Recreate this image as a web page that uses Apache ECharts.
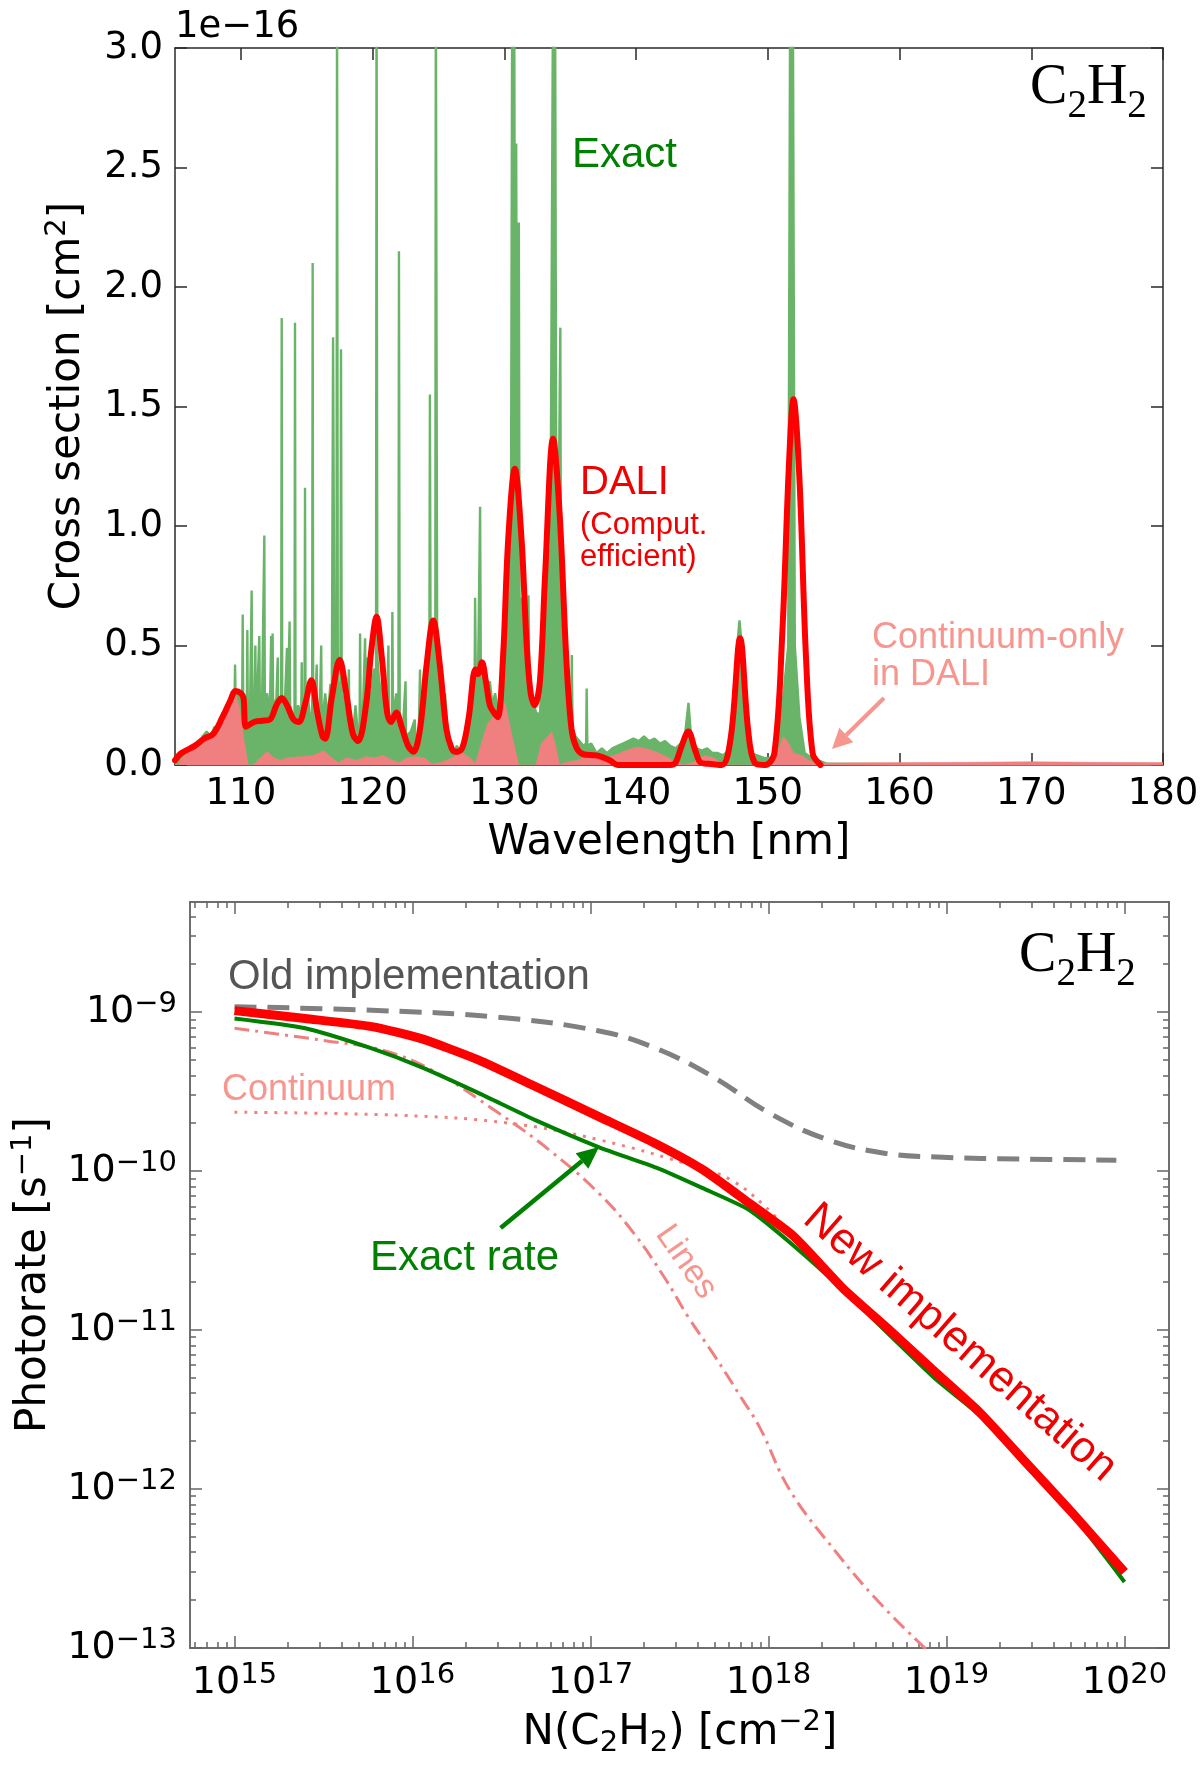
<!DOCTYPE html>
<html><head><meta charset="utf-8">
<script src="https://cdn.jsdelivr.net/npm/echarts@6/dist/echarts.min.js"></script>
<style>html,body{margin:0;padding:0;background:#fff}#c{width:1200px;height:1776px}</style>
</head><body><div id="c"></div>
<script>
// ================= TOP PANEL: cross sections (units of 1e-16 cm^2) =================
const wlTicks = [110,120,130,140,150,160,170,180];
const xsecTicks = [0,0.5,1.0,1.5,2.0,2.5,3.0];

// Exact cross section [wavelength nm, sigma/1e-16]
const exactXsec = [
[105.0,0.03],[105.4,0.04],[105.8,0.05],[106.2,0.07],[106.5,0.09],[106.8,0.08],[107.1,0.12],[107.4,0.14],[107.7,0.12],[108.0,0.16],
[108.3,0.15],[108.6,0.22],[108.8,0.18],[109.0,0.24],[109.2,0.28],[109.4,0.25],[109.52,0.27],[109.56,0.42],[109.6,0.28],[109.8,0.3],
[110.0,0.27],[110.1,0.26],[110.14,0.63],[110.18,0.25],[110.3,0.2],[110.45,0.24],[110.49,0.565],[110.53,0.22],[110.7,0.25],[110.82,0.73],
[110.86,0.24],[111.0,0.2],[111.1,0.5],[111.14,0.2],[111.25,0.3],[111.4,0.54],[111.44,0.26],[111.6,0.22],[111.78,0.96],[111.82,0.25],[112.0,0.3],[112.2,0.2],
[112.3,0.54],[112.34,0.2],[112.41,0.55],[112.45,0.24],[112.7,0.28],[112.8,0.45],[112.84,0.22],[113.06,0.25],[113.1,1.87],[113.14,0.25],[113.3,0.2],
[113.5,0.49],[113.54,0.22],[113.7,0.6],[113.74,0.25],[114.0,0.18],[114.07,0.2],[114.11,1.85],[114.15,0.2],[114.35,0.25],[114.58,0.2],[114.62,0.43],
[114.66,0.2],[114.83,0.22],[114.87,1.16],[114.91,0.22],[115.1,0.28],[115.25,0.2],[115.41,0.22],[115.45,2.10],[115.49,0.24],[115.6,0.2],
[115.72,0.2],[115.76,0.42],[115.8,0.2],[116.0,0.25],[116.1,0.5],[116.14,0.16],[116.2,0.16],[116.4,0.3],[116.6,0.2],[116.8,0.34],[116.9,0.22],[117.0,1.79],
[117.1,0.4],[117.26,0.4],[117.3,3.3],[117.36,0.35],[117.56,0.3],[117.6,1.74],[117.66,0.25],[117.9,0.3],[118.1,0.15],[118.2,0.4],[118.24,0.15],[118.3,0.2],
[118.5,0.12],[118.7,0.25],[118.85,0.15],[119.01,0.15],[119.05,0.55],[119.1,0.18],[119.25,0.2],[119.39,0.2],[119.43,0.53],[119.48,0.2],
[119.6,0.45],[119.64,0.22],[119.7,0.25],[119.9,0.3],[120.1,0.4],[120.26,0.4],[120.3,3.3],[120.36,0.45],[120.5,0.35],[120.7,0.3],[120.9,0.2],[121.1,0.25],
[121.2,0.5],[121.24,0.18],[121.3,0.18],[121.46,0.2],[121.5,0.64],[121.55,0.2],[121.8,0.3],[121.96,0.25],[122.0,2.15],[122.06,0.2],[122.3,0.15],[122.5,0.35],[122.54,0.12],[122.6,0.12],
[122.9,0.14],[123.2,0.19],[123.25,0.1],[123.5,0.12],[123.6,0.4],[123.64,0.14],[123.8,0.15],[124.0,0.3],[124.2,0.5],[124.31,0.45],[124.35,1.55],[124.4,0.5],
[124.6,0.6],[124.76,0.55],[124.8,3.3],[124.9,0.5],[125.1,0.4],[125.3,0.25],[125.5,0.3],[125.7,0.12],[125.9,0.1],[126.1,0.05],
[126.4,0.08],[126.7,0.05],[127.0,0.1],[127.3,0.12],[127.5,0.3],[127.74,0.3],[127.78,0.70],[127.85,0.3],[128.0,0.35],[128.12,0.35],
[128.16,1.08],[128.22,0.35],[128.37,0.3],[128.41,0.42],[128.5,0.3],[128.7,0.3],[128.9,0.35],[129.1,0.25],[129.3,0.3],[129.6,0.2],
[129.9,0.3],[130.1,0.4],[130.3,0.6],[130.5,0.9],[130.6,3.3],[130.68,0.9],[130.75,3.3],[130.82,1.2],[130.9,2.6],[130.98,0.8],
[131.1,2.27],[131.16,0.6],[131.3,0.7],[131.5,0.45],[131.79,0.4],[131.83,0.71],[131.9,0.35],[132.1,0.3],[132.4,0.22],[132.7,0.21],
[132.9,0.4],[133.1,0.6],[133.3,0.9],[133.5,0.9],[133.7,3.3],[133.78,1.2],[133.85,3.3],[133.95,1.0],[134.1,0.9],[134.25,1.83],
[134.3,0.7],[134.5,0.5],[134.7,0.35],[134.9,0.25],[135.08,0.2],[135.12,0.46],[135.18,0.15],[135.4,0.12],[135.7,0.1],[136.0,0.08],
[136.21,0.09],[136.25,0.32],[136.3,0.08],[136.6,0.09],[137.0,0.05],[137.4,0.07],[137.8,0.05],[138.2,0.07],[138.6,0.08],[139.0,0.09],
[139.4,0.1],[139.8,0.11],[140.2,0.1],[140.6,0.12],[141.0,0.1],[141.4,0.11],[141.8,0.09],[142.2,0.1],[142.6,0.08],[143.0,0.07],
[143.4,0.09],[143.7,0.12],[143.98,0.26],[144.2,0.1],[144.6,0.07],[145.0,0.06],[145.4,0.07],[145.8,0.05],[146.2,0.05],[146.6,0.04],
[147.0,0.06],[147.3,0.2],[147.6,0.45],[147.85,0.605],[148.1,0.45],[148.4,0.15],[148.7,0.05],[149.2,0.04],[149.7,0.03],[150.2,0.03],
[150.7,0.06],[151.2,0.3],[151.55,0.5],[151.7,3.3],[151.78,1.0],[151.9,3.3],[152.05,0.5],[152.4,0.2],[152.8,0.05],[153.3,0.03],
[153.8,0.02],[154.5,0.005],[160.0,0.003],[170.0,0.003],[180.0,0.003]
];

// DALI (computationally efficient) cross section
const daliXsec = [
[105.0,0.02],[105.5,0.05],[106.5,0.08],[107.2,0.11],[107.9,0.13],[108.6,0.20],[109.2,0.27],[109.6,0.31],[110.0,0.30],[110.2,0.28],
[110.4,0.16],[111.0,0.18],[111.6,0.185],[112.2,0.19],[112.7,0.25],[113.1,0.28],[113.5,0.25],[114.0,0.19],[114.4,0.18],[114.9,0.26],
[115.35,0.355],[115.8,0.22],[116.2,0.12],[116.4,0.11],[116.9,0.28],[117.5,0.44],[118.0,0.30],[118.5,0.13],[118.9,0.10],[119.5,0.25],
[119.9,0.48],[120.3,0.62],[120.7,0.45],[121.1,0.22],[121.4,0.18],[121.8,0.22],[122.2,0.16],[122.7,0.08],[123.1,0.055],[123.6,0.15],
[124.1,0.42],[124.6,0.605],[125.1,0.42],[125.6,0.15],[126.0,0.07],[126.3,0.055],[126.8,0.07],[127.3,0.20],[127.8,0.40],[128.0,0.38],
[128.3,0.43],[128.6,0.35],[128.9,0.25],[129.2,0.22],[129.5,0.20],[129.9,0.45],[130.3,0.95],[130.8,1.24],[131.3,0.95],[131.7,0.50],
[132.0,0.30],[132.3,0.25],[132.7,0.35],[133.1,0.80],[133.7,1.365],[134.2,1.05],[134.7,0.45],[135.1,0.15],[135.5,0.07],[136.0,0.045],
[137.0,0.04],[138.0,0.02],[138.6,0.0],[142.6,0.0],[143.0,0.01],[143.4,0.07],[143.97,0.14],[144.5,0.06],[144.9,0.01],[145.5,0.005],
[146.5,0.0],[147.2,0.12],[147.9,0.53],[148.5,0.15],[149.0,0.01],[149.8,0.0],[150.5,0.05],[151.1,0.55],[151.6,1.25],[151.95,1.53],
[152.4,1.2],[152.9,0.45],[153.4,0.05],[154.0,0.0]
];

// Continuum-only cross section in DALI
const continuumXsec = [
[105.0,0.0],[105.3,0.0],[105.5,0.03],[106.2,0.06],[107.0,0.09],[107.6,0.11],[108.2,0.13],[108.7,0.20],[109.2,0.27],[109.55,0.30],
[109.9,0.24],[110.2,0.12],[110.55,0.0],[110.9,0.0],[111.3,0.02],[112.0,0.057],[112.5,0.03],[113.0,0.02],[113.5,0.03],[114.5,0.035],
[115.5,0.04],[116.3,0.06],[116.9,0.03],[117.4,0.01],[118.0,0.03],[118.8,0.02],[119.5,0.035],[120.2,0.03],[120.8,0.04],[121.5,0.02],
[122.0,0.01],[122.6,0.03],[123.3,0.035],[123.9,0.03],[124.5,0.005],[125.2,0.01],[126.0,0.03],[126.8,0.05],[127.4,0.03],[127.8,0.005],
[128.2,0.08],[128.7,0.17],[129.4,0.22],[130.05,0.26],[130.6,0.12],[131.1,0.0],[132.4,0.0],[132.8,0.09],[133.3,0.12],[133.6,0.14],
[133.9,0.08],[134.2,0.0],[134.6,0.01],[135.5,0.02],[136.7,0.04],[137.5,0.025],[138.3,0.04],[139.2,0.06],[140.0,0.075],[140.7,0.07],
[141.5,0.055],[142.3,0.035],[142.8,0.02],[143.6,0.0],[144.3,0.01],[145.2,0.04],[145.9,0.03],[146.6,0.0],[149.6,0.0],[150.4,0.02],
[150.9,0.08],[151.2,0.12],[151.6,0.09],[151.95,0.05],[152.6,0.04],[153.1,0.02],[153.6,0.01],[154.5,0.008],[160.0,0.01],[165.0,0.011],
[170.0,0.014],[175.0,0.011],[180.0,0.01]
];

// ================= BOTTOM PANEL: photorates =================
const colTickExps = [15,16,17,18,19,20];
const rateTickExps = [-13,-12,-11,-10,-9];

const newN    = [1.0e15,2.5e15,5.9e15,1.12e16,2.34e16,4.9e16,1.12e17,2.34e17,4.27e17,7.76e17,1.38e18,2.63e18,4.79e18,8.71e18,1.55e19,2.82e19,5.13e19,1.0e20];
const newRate = [1.02e-9,9.1e-10,8.1e-10,6.8e-10,5.0e-10,3.4e-10,2.19e-10,1.48e-10,1.02e-10,6.3e-11,3.9e-11,1.82e-11,1.0e-11,5.4e-12,3.0e-12,1.45e-12,7.0e-13,3.0e-13];

const exactN    = [1.0e15,2.5e15,5.9e15,1.12e16,2.34e16,4.9e16,1.12e17,2.34e17,4.27e17,7.76e17,1.38e18,2.63e18,4.79e18,8.71e18,1.55e19,2.82e19,5.13e19,1.0e20];
const exactRate = [9.1e-10,7.9e-10,5.9e-10,4.5e-10,3.1e-10,2.09e-10,1.41e-10,1.05e-10,7.8e-11,5.7e-11,3.4e-11,1.78e-11,9.3e-12,4.9e-12,2.88e-12,1.38e-12,6.8e-13,2.6e-13];

const oldN    = [1.0e15,6.8e15,2.95e16,1.12e17,2.34e17,4.9e17,1.02e18,2.16e18,4.57e18,9.55e18,2.57e19,9.0e19];
const oldRate = [1.08e-9,1.02e-9,9.3e-10,7.6e-10,5.9e-10,3.9e-10,2.3e-10,1.57e-10,1.29e-10,1.22e-10,1.19e-10,1.17e-10];

const contN    = [1.0e15,8.5e15,3.47e16,1.12e17,4.07e17,6.24e17,9.55e17,1.48e18];
const contRate = [2.34e-10,2.24e-10,2.0e-10,1.57e-10,1.05e-10,8.7e-11,6.0e-11,3.55e-11];

const linesN    = [1.0e15,3.24e15,6.8e15,1.29e16,3.09e16,5.89e16,1.12e17,1.74e17,2.63e17,3.55e17,5.01e17,7.08e17,8.91e17,1.32e18,2.4e18,4.07e18,7.41e18,1.0e19];
const linesRate = [7.9e-10,6.6e-10,5.75e-10,4.3e-10,2.29e-10,1.35e-10,7.2e-11,4.1e-11,2.1e-11,1.2e-11,6.8e-12,3.7e-12,2.45e-12,9.8e-13,4.0e-13,2.0e-13,1.02e-13,7.6e-14];

// ================= build =================
const FONT = 'DejaVu Sans', ANN = 'Liberation Sans', SERIF = 'Liberation Serif';
const AX1 = '#2a2a2a', AX2 = '#666666';
const SALMON_TXT = '#F7968E', SALMON = '#F08080';

const xMin = Math.pow(10,14.75), xMax = Math.pow(10,20.25);
const yMin = 0.999e-13, yMax = Math.pow(10,-8.308);
const xMajor = colTickExps.map(e => Number('1e' + e));
const yMajor = rateTickExps.map(e => Number('1e' + e));
const xMinor = [], yMinor = [];
for (let e = 14; e <= 20; e++) for (let k = 2; k <= 9; k++) { const v = k * Number('1e' + e); if (v > xMin && v < xMax) xMinor.push(v); }
for (let e = -14; e <= -9; e++) for (let k = 2; k <= 9; k++) { const v = k * Number('1e' + e); if (v > yMin && v < yMax) yMinor.push(v); }

const pairs = (a, b) => a.map((v, i) => [v, b[i]]);
const expLabel = v => { const e = Math.round(Math.log10(v)); return '{b|10}{s|' + (e < 0 ? '\u2212' + (-e) : e) + '}'; };
const richTick = {
  b: { fontFamily: FONT, fontSize: 38, lineHeight: 44, color: '#000' },
  s: { fontFamily: FONT, fontSize: 29, lineHeight: 20, verticalAlign: 'top', color: '#000' }
};

function linAxisX(pos, labels) {
  return { type: 'value', gridIndex: 0, position: pos, min: 105, max: 180,
    axisLine: { show: true, onZero: false, lineStyle: { color: AX1, width: 1.5 } },
    axisTick: { show: true, inside: true, length: 12, customValues: wlTicks, lineStyle: { color: AX1, width: 1.5 } },
    axisLabel: labels ? { show: true, customValues: wlTicks, fontFamily: FONT, fontSize: 37, lineHeight: 37, color: '#000', margin: 11, showMinLabel: true, showMaxLabel: true } : { show: false },
    splitLine: { show: false } };
}
function linAxisY(pos, labels) {
  return { type: 'value', gridIndex: 0, position: pos, min: 0, max: 3, interval: 0.5,
    axisLine: { show: true, onZero: false, lineStyle: { color: AX1, width: 1.5 } },
    axisTick: { show: true, inside: true, length: 12, lineStyle: { color: AX1, width: 1.5 } },
    axisLabel: labels ? { show: true, fontFamily: FONT, fontSize: 37, color: '#000', margin: 12, formatter: v => v.toFixed(1), showMinLabel: true, showMaxLabel: true } : { show: false },
    splitLine: { show: false } };
}
function logAxis(dim, pos, major, labels) {
  const isX = dim === 'x';
  const ax = { type: 'log', logBase: 10, gridIndex: 1, position: pos,
    min: isX ? xMin : yMin, max: isX ? xMax : yMax,
    axisLine: { show: true, onZero: false, lineStyle: { color: AX2, width: 1.5 } },
    axisTick: { show: true, inside: true, length: major ? 12 : 6, customValues: major ? (isX ? xMajor : yMajor) : (isX ? xMinor : yMinor), lineStyle: { color: AX2, width: 1.5 } },
    axisLabel: { show: false },
    splitLine: { show: false }, minorTick: { show: false }, minorSplitLine: { show: false } };
  if (labels) ax.axisLabel = { show: true, customValues: isX ? xMajor : yMajor, formatter: expLabel, rich: richTick,
    margin: isX ? 13 : 13, showMinLabel: true, showMaxLabel: true };
  return ax;
}

function txt(x, y, text, font, fill, align, rot, rich, lineHeight) {
  const st = { text: text, font: font, fill: fill, align: align || 'left', verticalAlign: 'middle',
    textAlign: align || 'left', textVerticalAlign: 'middle' };
  if (rich) st.rich = rich;
  if (lineHeight) st.lineHeight = lineHeight;
  return { type: 'text', x: x, y: y, rotation: rot || 0, z: 100, style: st };
}
function arrow(x1, y1, x2, y2, color, w, headLen, headHalf) {
  const dx = x2 - x1, dy = y2 - y1, L = Math.hypot(dx, dy), ux = dx / L, uy = dy / L, nx = -uy, ny = ux;
  const bx = x2 - headLen * ux, by = y2 - headLen * uy;
  return [
    { type: 'line', z: 100, shape: { x1: x1, y1: y1, x2: bx, y2: by }, style: { stroke: color, lineWidth: w } },
    { type: 'polygon', z: 100, shape: { points: [[x2, y2], [bx + headHalf * nx, by + headHalf * ny], [bx - headHalf * nx, by - headHalf * ny]] }, style: { fill: color } }
  ];
}
const supRich = (fs, lh) => ({ sup: { font: fs + 'px "' + FONT + '"', fontSize: fs, fontFamily: FONT, lineHeight: lh, verticalAlign: 'top' },
                              sub: { font: fs + 'px "' + FONT + '"', fontSize: fs, fontFamily: FONT, lineHeight: 34, verticalAlign: 'bottom' } });
function chem(x, y) {
  return [
    txt(x, y, 'C', '56px "' + SERIF + '"', '#000'),
    txt(x + 37.4, y + 19, '2', '39px "' + SERIF + '"', '#000'),
    txt(x + 56.9, y, 'H', '56px "' + SERIF + '"', '#000'),
    txt(x + 97.3, y + 19, '2', '39px "' + SERIF + '"', '#000')
  ];
}

const graphics = [].concat(
  [txt(175, 27, '1e\u221216', '37px "' + FONT + '"', '#000')],
  chem(1030, 88),
  [txt(572, 155, 'Exact', '42px "' + ANN + '"', '#008000'),
   txt(580, 483, 'DALI', '40px "' + ANN + '"', '#f00000'),
   txt(580, 525, '(Comput.', '31px "' + ANN + '"', '#f00000'),
   txt(580, 557, 'efficient)', '31px "' + ANN + '"', '#f00000'),
   txt(872, 638, 'Continuum-only', '36px "' + ANN + '"', SALMON_TXT),
   txt(872, 675, 'in DALI', '36px "' + ANN + '"', SALMON_TXT)],
  arrow(884, 698, 832, 749, SALMON_TXT, 4, 20, 10),
  [txt(669, 843, 'Wavelength [nm]', '42px "' + FONT + '"', '#000', 'center'),
   txt(68, 406, 'Cross section [cm{sup|2}]', '42px "' + FONT + '"', '#000', 'center', Math.PI / 2, supRich(29, 24), 50)],
  chem(1019, 956),
  [txt(228, 977, 'Old implementation', '42px "' + ANN + '"', '#555555'),
   txt(222, 1090, 'Continuum', '36px "' + ANN + '"', SALMON_TXT),
   txt(370, 1258, 'Exact rate', '42px "' + ANN + '"', '#008000'),
   txt(686, 1262, 'Lines', '34px "' + ANN + '"', SALMON_TXT, 'center', -55 * Math.PI / 180),
   txt(960, 1343, 'New implementation', '44px "' + ANN + '"', '#f00000', 'center', -41 * Math.PI / 180)],
  arrow(500.6, 1228, 599, 1147, '#008000', 4.5, 22, 10),
  [txt(34, 1275, 'Photorate [s{sup|\u22121}]', '42px "' + FONT + '"', '#000', 'center', Math.PI / 2, supRich(29, 20), 50),
   txt(680, 1733, 'N(C{sub|2}H{sub|2}) [cm{sup|\u22122}]', '42px "' + FONT + '"', '#000', 'center', 0, supRich(29, 18), 50)]
);

const option = {
  animation: false,
  backgroundColor: '#ffffff',
  grid: [
    { left: 175, top: 48, width: 988, height: 717, containLabel: false, outerBoundsMode: 'none' },
    { left: 190, top: 902, width: 979, height: 746, containLabel: false, outerBoundsMode: 'none' }
  ],
  xAxis: [
    linAxisX('bottom', true), linAxisX('top', false),
    logAxis('x', 'bottom', true, true), logAxis('x', 'bottom', false, false),
    logAxis('x', 'top', true, false), logAxis('x', 'top', false, false)
  ],
  yAxis: [
    linAxisY('left', true), linAxisY('right', false),
    logAxis('y', 'left', true, true), logAxis('y', 'left', false, false),
    logAxis('y', 'right', true, false), logAxis('y', 'right', false, false)
  ],
  series: [
    { name: 'Exact', type: 'line', xAxisIndex: 0, yAxisIndex: 0, data: exactXsec, showSymbol: false, z: 2,
      lineStyle: { color: '#6ab46a', width: 2.4 }, areaStyle: { color: '#6ab46a', opacity: 1 } },
    { name: 'Continuum-only in DALI', type: 'line', xAxisIndex: 0, yAxisIndex: 0, data: continuumXsec, showSymbol: false, z: 3,
      lineStyle: { color: SALMON, width: 0.5 }, areaStyle: { color: SALMON, opacity: 1 } },
    { name: 'DALI', type: 'line', xAxisIndex: 0, yAxisIndex: 0, data: daliXsec, showSymbol: false, z: 4, smooth: 0.35,
      lineStyle: { color: '#ff0000', width: 6, join: 'round', cap: 'round' } },

    { name: 'Old implementation', type: 'line', xAxisIndex: 2, yAxisIndex: 2, data: pairs(oldN, oldRate), showSymbol: false, smooth: 0.4, z: 2,
      lineStyle: { color: '#808080', width: 5, type: [22, 11], cap: 'butt' } },
    { name: 'Continuum', type: 'line', xAxisIndex: 2, yAxisIndex: 2, data: pairs(contN, contRate), showSymbol: false, smooth: 0.4, z: 3,
      lineStyle: { color: SALMON, width: 3, type: [3, 7], cap: 'butt' } },
    { name: 'Lines', type: 'line', xAxisIndex: 2, yAxisIndex: 2, data: pairs(linesN, linesRate), showSymbol: false, smooth: 0.4, z: 3,
      lineStyle: { color: SALMON, width: 3, type: [15, 6, 3, 6], cap: 'butt' } },
    { name: 'Exact rate', type: 'line', xAxisIndex: 2, yAxisIndex: 2, data: pairs(exactN, exactRate), showSymbol: false, smooth: 0.2, z: 4,
      lineStyle: { color: '#007f00', width: 4 } },
    { name: 'New implementation', type: 'line', xAxisIndex: 2, yAxisIndex: 2, data: pairs(newN, newRate), showSymbol: false, smooth: 0.2, z: 5,
      lineStyle: { color: '#ff0000', width: 9, join: 'round' } }
  ],
  graphic: graphics
};

const chart = echarts.init(document.getElementById('c'), null, { renderer: 'canvas' });
chart.setOption(option);
</script>
</body></html>
